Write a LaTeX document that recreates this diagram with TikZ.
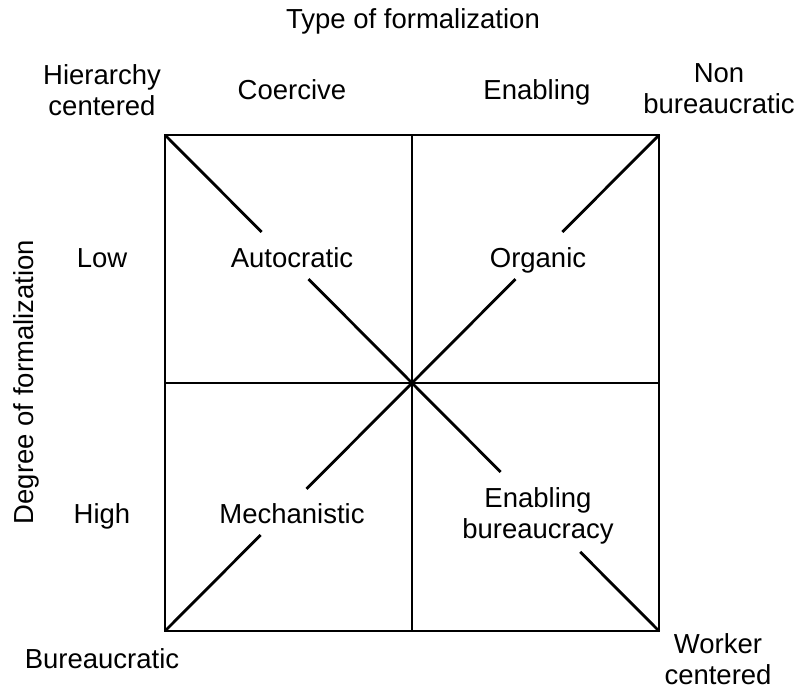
\documentclass[tikz,border=0pt]{standalone}
\usepackage{fontspec}
\setmainfont{Liberation Sans}
\usetikzlibrary{calc}
\begin{document}
\begin{tikzpicture}[x=1pt,y=-1pt,
  lbl/.style={inner sep=0pt,anchor=base,font=\fontsize{27.5}{31}\selectfont},
  mlbl/.style={lbl,align=center},
  rule/.style={line width=2.8pt,line cap=butt}]
\useasboundingbox (0,0) rectangle (797,691);
% square corners and centre
\coordinate (tl) at (165,135);
\coordinate (tr) at (659,135);
\coordinate (bl) at (165,631);
\coordinate (br) at (659,631);
\coordinate (c) at (412,383);
\coordinate (tm) at (412,135);
\coordinate (bm) at (412,631);
\coordinate (lm) at (165,383);
\coordinate (rm) at (659,383);
% gap ends on diagonals
\coordinate (a1) at ($(tl)!0.391!(c)$);
\coordinate (a2) at ($(tl)!0.581!(c)$);
\coordinate (o1) at ($(tr)!0.391!(c)$);
\coordinate (o2) at ($(tr)!0.581!(c)$);
\coordinate (m1) at ($(c)!0.427!(bl)$);
\coordinate (m2) at ($(c)!0.613!(bl)$);
\coordinate (e1) at ($(c)!0.359!(br)$);
\coordinate (e2) at ($(c)!0.681!(br)$);
% frame and axes
\draw[rule,line join=miter] (tl) rectangle (br);
\draw[rule] (tm) -- (bm);
\draw[rule] (lm) -- (rm);
% diagonals
\draw[rule] (tl) -- (a1);
\draw[rule] (a2) -- (c);
\draw[rule] (tr) -- (o1);
\draw[rule] (o2) -- (c);
\draw[rule] (c) -- (m1);
\draw[rule] (m2) -- (bl);
\draw[rule] (c) -- (e1);
\draw[rule] (e2) -- (br);
% labels
\node[lbl] (title) at (413,28) {Type of formalization};
\node[mlbl] (hier) at (102,115) {Hierarchy\\centered};
\node[lbl] (coer) at (292,99) {Coercive};
\node[lbl] (enab) at (537,99) {Enabling};
\node[mlbl] (nonb) at (719,113) {Non\\bureaucratic};
\node[lbl] (low) at (102,267) {Low};
\node[lbl] (high) at (102,523) {High};
\node[lbl] (auto) at (292,267) {Autocratic};
\node[lbl] (orga) at (538,267) {Organic};
\node[lbl] (mech) at (292,523) {Mechanistic};
\node[mlbl] (enbu) at (538,538) {Enabling\\bureaucracy};
\node[lbl] (bure) at (102,668) {Bureaucratic};
\node[mlbl] (work) at (718,684) {Worker\\centered};
\node[lbl,rotate=90] (deg) at (33,382) {Degree of formalization};
\end{tikzpicture}
\end{document}
